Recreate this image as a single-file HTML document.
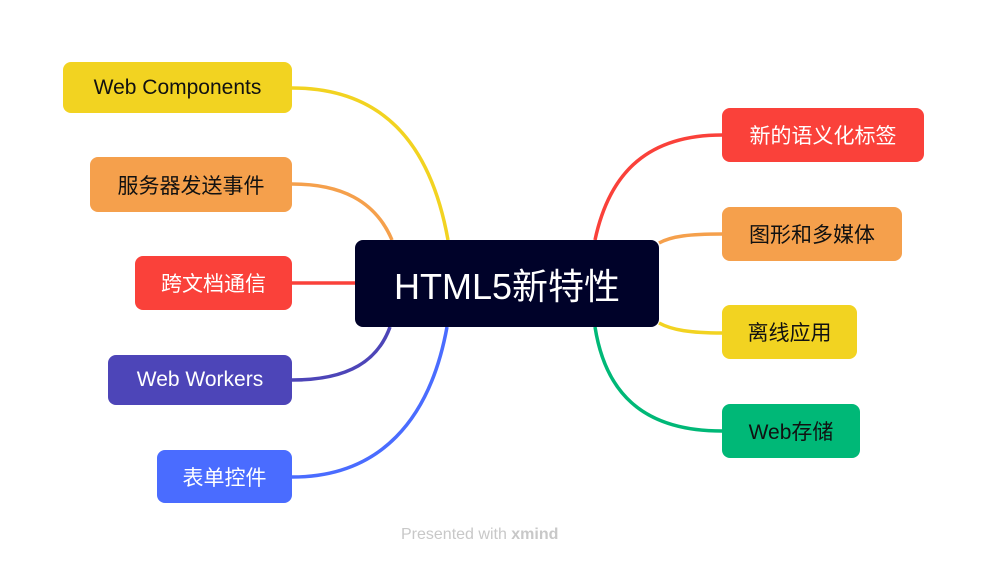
<!DOCTYPE html>
<html><head><meta charset="utf-8"><style>
body{margin:0;width:987px;height:567px;background:#fff;position:relative;overflow:hidden;font-family:"Liberation Sans","Noto Sans CJK SC",sans-serif}
.n{position:absolute;border-radius:8px;display:flex;align-items:center;justify-content:center;font-size:21px;color:#111}
svg{position:absolute;left:0;top:0}
</style></head><body>
<svg width="987" height="567" fill="none" stroke-width="3.5">
<path d="M292,88 C380,88 430,140 448,240" stroke="#f2d321"/>
<path d="M292,184 C340,184 375,200 392,240" stroke="#f5a04c"/>
<path d="M292,283 L356,283" stroke="#fa413a"/>
<path d="M292,380 C350,380 378,360 390,327" stroke="#4d45b8"/>
<path d="M292,477 C380,477 430,420 447,327" stroke="#4a6cff"/>
<path d="M722,135 C650,135 610,170 595,240" stroke="#fa413a"/>
<path d="M722,234 C690,234 672,236 659,243" stroke="#f5a04c"/>
<path d="M722,333 C690,333 672,330 659,323" stroke="#f2d321"/>
<path d="M722,431 C640,431 605,390 595,327" stroke="#00b877"/>
</svg>
<div class="n" style="left:355px;top:240px;width:304px;height:87px;background:#000229;color:#fff;font-size:36px">HTML5新特性</div>
<div class="n" style="left:63px;top:62px;width:229px;height:51px;background:#f2d321">Web Components</div>
<div class="n" style="left:90px;top:157px;width:202px;height:55px;background:#f5a04c">服务器发送事件</div>
<div class="n" style="left:135px;top:256px;width:157px;height:54px;background:#fa413a;color:#fff">跨文档通信</div>
<div class="n" style="left:108px;top:355px;width:184px;height:50px;background:#4d45b8;color:#fff">Web Workers</div>
<div class="n" style="left:157px;top:450px;width:135px;height:53px;background:#4a6cff;color:#fff">表单控件</div>
<div class="n" style="left:722px;top:108px;width:202px;height:54px;background:#fa413a;color:#fff">新的语义化标签</div>
<div class="n" style="left:722px;top:207px;width:180px;height:54px;background:#f5a04c">图形和多媒体</div>
<div class="n" style="left:722px;top:305px;width:135px;height:54px;background:#f2d321">离线应用</div>
<div class="n" style="left:722px;top:404px;width:138px;height:54px;background:#00b877">Web存储</div>
<div style="position:absolute;left:401px;top:526px;font-size:16px;color:#c8c8c8">Presented with <b>xmind</b></div>
</body></html>
